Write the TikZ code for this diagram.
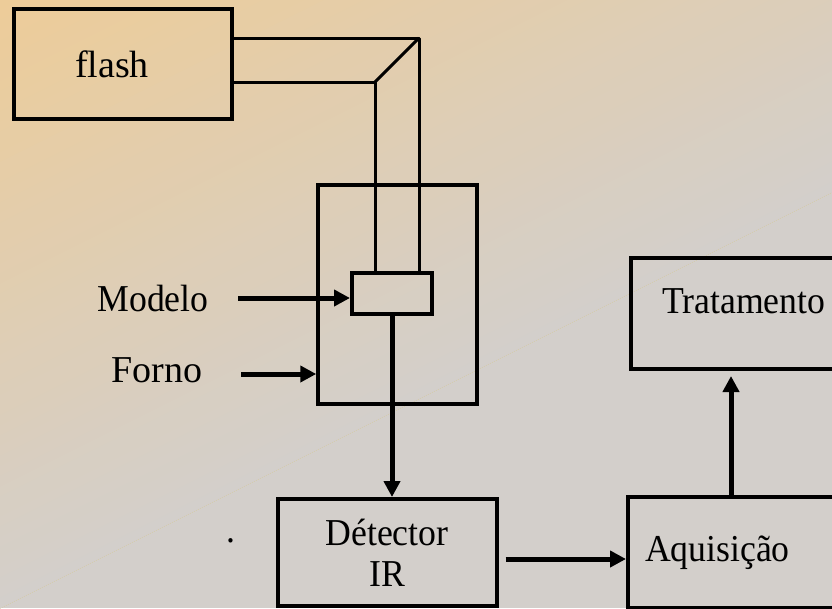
\documentclass[tikz,border=0pt]{standalone}
\usepackage{fontspec}
\setmainfont{Liberation Serif}
\newfontfamily\narrowserif{Liberation Serif}[FakeStretch=0.94]
\usetikzlibrary{arrows.meta,positioning,calc}
\definecolor{bgpeach}{HTML}{EDCC99}
\definecolor{bggrey}{HTML}{D3CFCB}
\tikzset{
  blk/.style  = {rectangle, draw=black, line width=4pt, inner sep=0pt, align=center,
                 font=\narrowserif\fontsize{38}{41}\selectfont},
  txt/.style  = {inner sep=0pt, font=\narrowserif\fontsize{38}{41}\selectfont},
  wide/.style = {font=\fontsize{38}{41}\selectfont},
  pipe/.style = {line width=3pt, line join=round},
  flow/.style = {-{Triangle[length=16pt,width=16pt]}, line width=5pt},
}
\begin{document}
\begin{tikzpicture}[x=1pt, y=-1pt]
\useasboundingbox (0,0) rectangle (832,608);
\clip (0,0) rectangle (832,608);
% background: peach in the top left corner, grey towards the bottom
\fill[bggrey] (0,0) rectangle (832,608);
\foreach \k in {0,...,59}{
  \pgfmathsetmacro\tz{\k*20.2667}
  \pgfmathtruncatemacro\pc{100*\k/59}
  \fill[bggrey!\pc!bgpeach] (\tz,0) -- (1216,0) -- (-184,700) -- (\tz-1400,700) -- cycle;
}

% boxes
\node[blk, wide, minimum width=218pt, minimum height=110pt, text width=96pt, align=left] (flash) at (123,64) {flash};
\node[blk, line width=3.5pt, minimum width=159pt, minimum height=219pt] (forno) at (397.5,294.5) {};
\node[blk, minimum width=80pt, minimum height=41pt] (modelo) at (392,293.5) {};
\node[blk, minimum width=219pt, minimum height=107pt] (detector) at (387,552.5) {Détector\\IR};
\node[blk, anchor=north west, minimum width=224pt, minimum height=111pt,
      text width=190pt, align=left] (aquis) at (626,495) {Aquisição};
\node[blk, anchor=north west, minimum width=226pt, minimum height=111pt,
      text width=164pt, align=left, text depth=25pt] (trat) at (629,256) {Tratamento};

% labels
\node[txt] (lblmodelo) at (153,298) {Modelo};
\node[txt, wide] (lblforno) at (157,370) {Forno};
\node[txt] (stray) at (231,541) {.};

% light pipe from the flash
\coordinate (elbowout) at (419,38);
\coordinate (elbowin) at (375,82);
\draw[pipe] (flash.east |- elbowout) -- (elbowout) -- (elbowout |- modelo.north);
\draw[pipe] (flash.east |- elbowin) -- (elbowin) -- (elbowin |- modelo.north);
\draw[pipe] (elbowin) -- (elbowout);

% arrows
\coordinate (modelin) at (238,298);
\coordinate (fornoin) at (241,374);
\coordinate (detout) at ($(detector.east)+(7,6.5)$);
\coordinate (aqtop) at ($(aquis.north west)+(105,0)$);
\draw[flow] (modelin) -- (modelo.west |- modelin);
\draw[flow] (fornoin) -- (forno.west |- fornoin);
\draw[flow] (modelo.south) -- (modelo.south |- detector.north);
\draw[flow] (detout) -- (detout -| aquis.west);
\draw[flow] (aqtop) -- ($(aqtop |- trat.south)+(0,5)$);

\end{tikzpicture}
\end{document}
